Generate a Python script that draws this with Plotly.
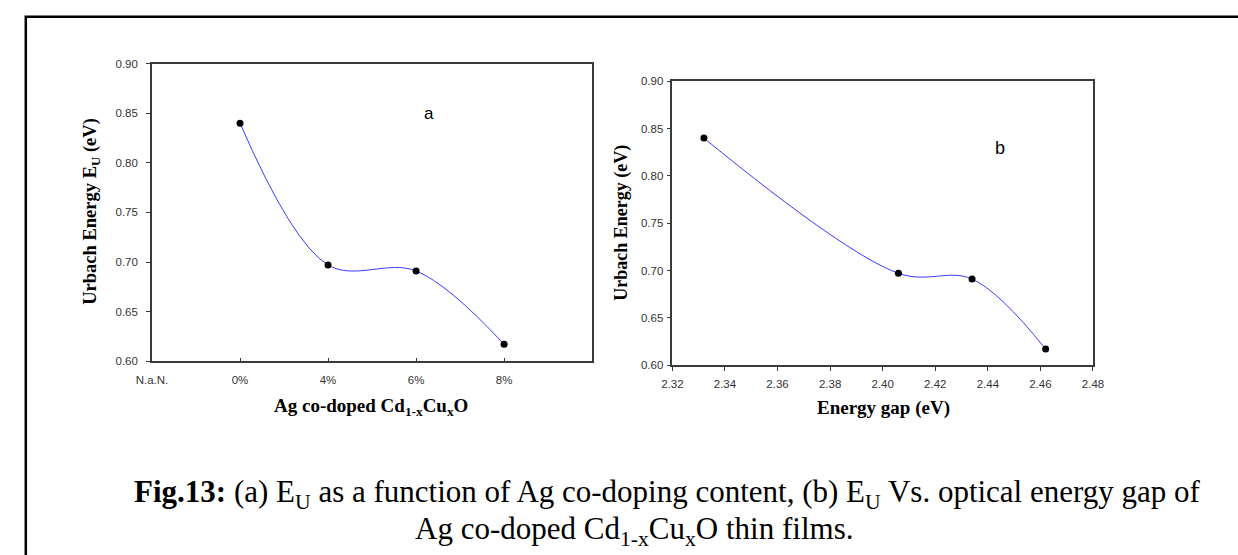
import plotly.graph_objects as go

# ---- data ----
doping_categories = ["N.a.N.", "0%", "4%", "6%", "8%"]
doping_levels = ["0%", "4%", "6%", "8%"]
urbach_energy = [0.840, 0.697, 0.691, 0.617]
energy_gap = [2.332, 2.406, 2.434, 2.462]

W, H = 1238, 555
def px(x): return x / W
def py(y): return 1 - y / H

SERIF = "Liberation Serif"
SANS = "Liberation Sans"
TICKC = "#333333"
LINEC = "#3a3a3a"

fig = go.Figure()

fig.add_trace(go.Scatter(
    x=doping_levels, y=urbach_energy, mode="lines+markers",
    line=dict(color="#3a3aff", width=1, shape="spline", smoothing=1),
    marker=dict(color="black", size=7),
    xaxis="x", yaxis="y", showlegend=False, cliponaxis=False))

fig.add_trace(go.Scatter(
    x=energy_gap, y=urbach_energy, mode="lines+markers",
    line=dict(color="#3a3aff", width=1, shape="spline", smoothing=1),
    marker=dict(color="black", size=7),
    xaxis="x2", yaxis="y2", showlegend=False, cliponaxis=False))

tickfont = dict(family=SANS, size=11.5, color=TICKC)

fig.update_layout(
    width=W, height=H,
    margin=dict(l=0, r=0, t=0, b=0),
    paper_bgcolor="white", plot_bgcolor="white",
    xaxis=dict(
        domain=[px(139), px(589)], anchor="y",
        type="category", categoryorder="array", categoryarray=doping_categories,
        range=[0, 5], tickmode="array", tickvals=doping_categories,
        ticks="inside", ticklen=3, tickcolor=LINEC, ticklabelstandoff=7,
        showline=True, linecolor=LINEC, linewidth=1.5, mirror=True,
        showgrid=False, zeroline=False, tickfont=tickfont),
    yaxis=dict(
        domain=[py(363), py(59)], anchor="x",
        range=[0.60, 0.90], dtick=0.05, tickformat=".2f",
        ticks="outside", ticklen=4, tickcolor=LINEC, ticklabelstandoff=6,
        showline=True, linecolor=LINEC, linewidth=1.5, mirror=True,
        showgrid=False, zeroline=False, tickfont=tickfont),
    xaxis2=dict(
        domain=[px(671), px(1101)], anchor="y2",
        range=[2.32, 2.48], dtick=0.02, tickformat=".2f",
        ticks="outside", ticklen=4, tickcolor=LINEC, ticklabelstandoff=3,
        showline=True, linecolor=LINEC, linewidth=1.5, mirror=True,
        showgrid=False, zeroline=False, tickfont=tickfont),
    yaxis2=dict(
        domain=[py(367), py(77)], anchor="x2",
        range=[0.60, 0.90], dtick=0.05, tickformat=".2f",
        ticks="outside", ticklen=4, tickcolor=LINEC, ticklabelstandoff=1,
        showline=True, linecolor=LINEC, linewidth=1.5, mirror=True,
        showgrid=False, zeroline=False, tickfont=tickfont),
)

ann = []
# axis titles
ann.append(dict(x=px(363), y=py(410), xref="paper", yref="paper", showarrow=False,
                text="<b>Ag co-doped Cd<sub>1-x</sub>Cu<sub>x</sub>O</b>",
                font=dict(family=SERIF, size=19, color="black"),
                xanchor="center", yanchor="middle"))
ann.append(dict(x=px(77), y=py(210), xref="paper", yref="paper", showarrow=False,
                text="<b>Urbach Energy E<sub>U</sub> (eV)</b>", textangle=-90,
                font=dict(family=SERIF, size=18.5, color="black"),
                xanchor="center", yanchor="middle"))
ann.append(dict(x=px(887), y=py(411), xref="paper", yref="paper", showarrow=False,
                text="<b>Energy gap (eV)</b>",
                font=dict(family=SERIF, size=19, color="black"),
                xanchor="center", yanchor="middle"))
ann.append(dict(x=px(619), y=py(222), xref="paper", yref="paper", showarrow=False,
                text="<b>Urbach Energy (eV)</b>", textangle=-90,
                font=dict(family=SERIF, size=18, color="black"),
                xanchor="center", yanchor="middle"))
# panel labels
ann.append(dict(x=px(422), y=py(110), xref="paper", yref="paper", showarrow=False,
                text="a", font=dict(family=SANS, size=17, color="black"),
                xanchor="center", yanchor="middle"))
ann.append(dict(x=px(1006), y=py(145), xref="paper", yref="paper", showarrow=False,
                text="b", font=dict(family=SANS, size=18, color="black"),
                xanchor="center", yanchor="middle"))
# caption
ann.append(dict(x=px(666), y=py(499), xref="paper", yref="paper", showarrow=False,
                text="<b>Fig.13:</b> (a) E<sub>U</sub> as a function of Ag co-doping content, (b) E<sub>U</sub> Vs. optical energy gap of",
                font=dict(family=SERIF, size=31, color="black"),
                xanchor="center", yanchor="middle"))
ann.append(dict(x=px(632), y=py(537), xref="paper", yref="paper", showarrow=False,
                text="Ag co-doped Cd<sub>1-x</sub>Cu<sub>x</sub>O thin films.",
                font=dict(family=SERIF, size=31, color="black"),
                xanchor="center", yanchor="middle"))
fig.update_layout(annotations=ann)

# outer frame
fig.add_shape(type="rect", xref="paper", yref="paper",
              x0=px(10), y0=-0.05, x1=1.05, y1=py(11),
              line=dict(color="black", width=2.5), fillcolor="rgba(0,0,0,0)")

fig.write_html("out.html",
               post_script="document.body.style.margin='0';document.body.style.overflow='hidden';")
